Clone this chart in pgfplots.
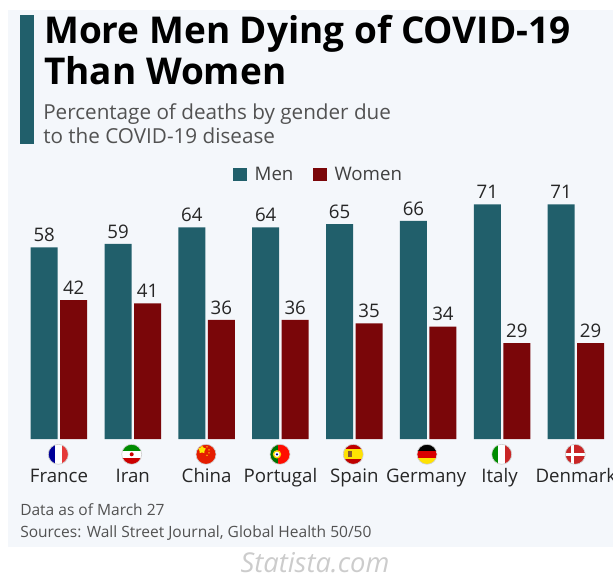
\documentclass[border=0pt]{standalone}
\usepackage{pgfplots}
\pgfplotsset{compat=1.18}
\usepackage{fontspec}
\setmainfont{Open Sans}
\usetikzlibrary{shapes.geometric}
\definecolor{teal1}{HTML}{215F6B}
\definecolor{red1}{HTML}{7A0609}
\definecolor{bg1}{HTML}{F4F7FB}
\newcommand{\fsz}[1]{\fontsize{#1}{#1}\selectfont}
\newcommand{\flag}[2]{%
  \begin{scope}[shift={(#1,454.3)}]
    \begin{scope}
      \clip (0,0) circle (10);
      #2
    \end{scope}
    \draw[black!18,line width=.5pt] (0,0) circle (10);
  \end{scope}}
\begin{document}
\begin{tikzpicture}
\useasboundingbox (0pt,0pt) rectangle (459.75pt,-431.25pt);
\clip (0pt,0pt) rectangle (459.75pt,-431.25pt);
\fill[white] (0pt,0pt) rectangle (459.75pt,-431.25pt);
\begin{scope}[x=.75pt,y=-.75pt]
\fill[bg1] (8,9.5) rectangle (613,546.7);
\fill[teal1] (19.5,15) rectangle (34.4,144);
\node[anchor=base west,inner sep=0,font=\fsz{27.7pt}\bfseries] at (44,43) {More Men Dying of COVID-19};
\node[anchor=base west,inner sep=0,font=\fsz{27.7pt}\bfseries] at (44,84) {Than Women};
\node[anchor=base west,inner sep=0,font=\fsz{15.5pt},text=black!68] at (43,119) {Percentage of deaths by gender due};
\node[anchor=base west,inner sep=0,font=\fsz{15.5pt},text=black!68] at (43,143) {to the COVID-19 disease};
\node[anchor=base west,inner sep=0,font=\fsz{11.65pt},text=black!68] at (20,515.7) {Data as of March 27};
\node[anchor=base west,inner sep=0,font=\fsz{11.65pt},text=black!68] at (20,537.3) {Sources: Wall Street Journal, Global Health 50/50};
\node[anchor=base,inner sep=0,font=\fsz{20.5pt}\itshape,text=black!20] at (315,572.5) {Statista.com};
\end{scope}
\begin{axis}[
  at={(6pt,-329.25pt)}, anchor=south west,
  scale only axis, width=453.75pt, height=198.375pt,
  xmin=-0.69, xmax=7.503, ymin=0, ymax=80,
  axis line style={draw=none}, clip=false,
  ytick=\empty, xtick=data, major tick length=0pt,
  xticklabels={France,Iran,China,Portugal,Spain,Germany\kern3pt,Italy\kern3.75pt,Denmark},
  x tick label style={font=\fsz{14pt},text=black!85,anchor=base,inner sep=0,yshift=-32.25pt},
  ybar=1.87pt, bar width=20.25pt,
  nodes near coords,
  /pgf/number format/assume math mode=true,
  nodes near coords style={font=\fsz{14pt},text=black!85,anchor=south,inner sep=0,yshift=4pt},
  legend columns=2,
  legend style={at={(0.514,1.0)},anchor=center,draw=none,fill=none,font=\fsz{14pt},text=black!75,inner sep=0,
    /tikz/every odd column/.append style={column sep=4pt},
    /tikz/every even column/.append style={column sep=12.8pt}},
  legend image code/.code={\fill[#1,draw=none] (0pt,-5pt) rectangle (10pt,5pt);},
]
\addplot[draw=none,fill=teal1] coordinates {(0,58)(1,59)(2,64)(3,64)(4,65)(5,66)(6,71)(7,71)};
\addplot[draw=none,fill=red1] coordinates {(0,42)(1,41)(2,36)(3,36)(4,35)(5,34)(6,29)(7,29)};
\legend{Men,Women}
\end{axis}
\begin{scope}[x=.75pt,y=-.75pt]
\flag{58.3}{\fill[white] (-10,-10) rectangle (10,10);\fill[blue!60!black] (-10,-10) rectangle (-3.3,10);\fill[red!75!white!90!black] (3.3,-10) rectangle (10,10);}
\flag{131.7}{\fill[white] (-10,-10) rectangle (10,10);\fill[green!55!black] (-10,-10) rectangle (10,-3.3);\fill[red!80!black] (-10,3.3) rectangle (10,10);\fill[red!80!black] (0,0) circle (2);}
\flag{206}{\fill[red!75!orange!90!black] (-10,-10) rectangle (10,10);
  \node[star,star points=5,fill=yellow!90!orange,inner sep=0,minimum size=6pt] at (-4,-4.5) {};
  \fill[yellow!90!orange] (1,-7.5) circle (.7) (3,-4.5) circle (.7) (3,-1.5) circle (.7) (1,1) circle (.7);}
\flag{280}{\fill[red!90!orange] (-10,-10) rectangle (10,10);\fill[green!45!black] (-10,-10) rectangle (-2.5,10);\fill[yellow!70!orange] (-3,0) circle (4.2);\fill[white] (-3,0) circle (2.6);\fill[blue!60!black] (-3,0) circle (1.2);}
\flag{353.3}{\fill[red!75!black] (-10,-10) rectangle (10,10);\fill[yellow!85!orange] (-10,-5) rectangle (10,5);\fill[brown!70!black] (-5.5,-3) rectangle (-1,3);}
\flag{427}{\fill[black] (-10,-10) rectangle (10,-3.3);\fill[red!85!black] (-10,-3.3) rectangle (10,3.3);\fill[yellow!85!orange] (-10,3.3) rectangle (10,10);}
\flag{501.7}{\fill[white] (-10,-10) rectangle (10,10);\fill[green!55!black] (-10,-10) rectangle (-3.3,10);\fill[red!75!black!85!white] (3.3,-10) rectangle (10,10);}
\flag{575.3}{\fill[red!75!black!85!white] (-10,-10) rectangle (10,10);\fill[white] (-10,-1.5) rectangle (10,1.5);\fill[white] (-4,-10) rectangle (-1,10);}
\end{scope}
\end{tikzpicture}
\end{document}
